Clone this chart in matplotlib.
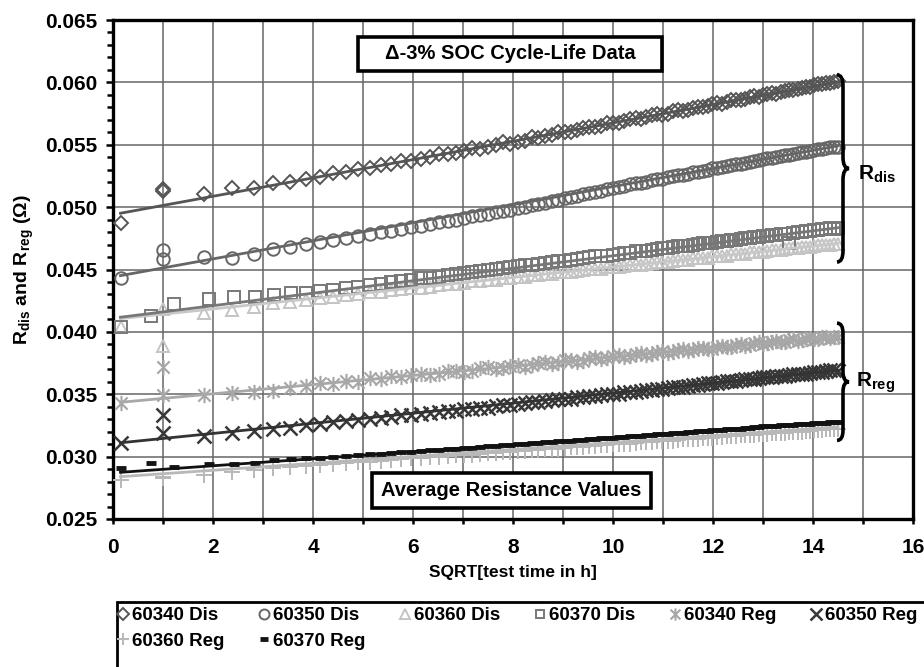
import numpy as np
import matplotlib
matplotlib.use('Agg')
import matplotlib.pyplot as plt
from matplotlib.path import Path
from matplotlib.patches import PathPatch, Rectangle
from matplotlib.ticker import MultipleLocator, FormatStrFormatter

plt.rcParams['font.family'] = ['Liberation Sans', 'DejaVu Sans']
plt.rcParams['font.weight'] = 'bold'
plt.rcParams['mathtext.fontset'] = 'custom'
plt.rcParams['mathtext.rm'] = 'Liberation Sans:bold'
plt.rcParams['mathtext.default'] = 'rm'

# SQRT[test time in h] for the measurement points
x_early = [0.15, 1.00, 1.00, 1.82, 2.37, 2.81, 3.19, 3.54]
x_early_370 = [0.15, 0.75, 1.22, 1.92, 2.42, 2.84, 3.22, 3.56]
x_late = [3.85, 4.14, 4.40, 4.66, 4.90, 5.13, 5.35, 5.56, 5.76, 5.96,
          6.33, 6.69, 7.02, 7.34, 7.65, 7.94, 8.23, 8.50, 8.77, 9.03,
          9.28, 9.52, 9.76, 9.99, 10.22, 10.45, 10.66, 10.88, 11.09, 11.29,
          11.49, 11.69, 11.89, 12.08, 12.27, 12.45, 12.64, 12.82, 13.00, 13.17,
          13.35, 13.52, 13.69, 13.85, 14.02, 14.18, 14.34, 14.50]
# in-between checkups (second half of the test)
x_mid = [6.15, 6.51, 6.86, 7.18, 7.50, 7.80, 8.09, 8.37, 8.64, 8.90,
         9.15, 9.40, 9.64, 9.88, 10.11, 10.33, 10.55, 10.77, 10.98, 11.19,
         11.39, 11.59, 11.79, 11.98, 12.17, 12.36, 12.55, 12.73, 12.91, 13.08,
         13.26, 13.43, 13.60, 13.77, 13.94, 14.10, 14.26, 14.42]

# resistance values (ohm)
dis_60340 = [0.04873, 0.05145, 0.05132, 0.05105, 0.05153, 0.05150, 0.05190, 0.05200,
             0.05225, 0.05238, 0.05270, 0.05278, 0.05305, 0.05312, 0.05340, 0.05345, 0.05370, 0.05372,
             0.05398, 0.05425, 0.05450, 0.05468, 0.05495, 0.05510, 0.05530, 0.05555, 0.05575, 0.05600,
             0.05615, 0.05640, 0.05650, 0.05676, 0.05688, 0.05712, 0.05720, 0.05745, 0.05750, 0.05778,
             0.05782, 0.05806, 0.05812, 0.05835, 0.05840, 0.05862, 0.05868, 0.05890, 0.05895, 0.05915,
             0.05920, 0.05942, 0.05948, 0.05965, 0.05975, 0.05990, 0.05998, 0.06008]
dis_60350 = [0.04432, 0.04656, 0.04584, 0.04600, 0.04592, 0.04624, 0.04664, 0.04680,
             0.04705, 0.04722, 0.04740, 0.04755, 0.04770, 0.04782, 0.04800, 0.04812, 0.04825, 0.04840,
             0.04862, 0.04888, 0.04912, 0.04935, 0.04958, 0.04980, 0.05002, 0.05025, 0.05048, 0.05070,
             0.05090, 0.05112, 0.05132, 0.05152, 0.05170, 0.05190, 0.05205, 0.05222, 0.05238, 0.05255,
             0.05268, 0.05285, 0.05300, 0.05315, 0.05328, 0.05342, 0.05356, 0.05370, 0.05382, 0.05396,
             0.05408, 0.05420, 0.05434, 0.05445, 0.05458, 0.05468, 0.05478, 0.05482]
dis_60360 = [0.04039, 0.03890, 0.04180, 0.04151, 0.04175, 0.04200, 0.04230, 0.04240,
             0.04258, 0.04275, 0.04282, 0.04298, 0.04303, 0.04318, 0.04322, 0.04336, 0.04340, 0.04352,
             0.04362, 0.04383, 0.04392, 0.04410, 0.04418, 0.04435, 0.04442, 0.04459, 0.04465, 0.04481,
             0.04487, 0.04502, 0.04507, 0.04522, 0.04526, 0.04541, 0.04545, 0.04559, 0.04562, 0.04576,
             0.04580, 0.04593, 0.04596, 0.04609, 0.04612, 0.04625, 0.04628, 0.04640, 0.04643, 0.04655,
             0.04658, 0.04670, 0.04672, 0.04684, 0.04686, 0.04698, 0.04699, 0.04705]
dis_60370 = [0.04040, 0.04128, 0.04220, 0.04264, 0.04280, 0.04280, 0.04296, 0.04310,
             0.04310, 0.04325, 0.04335, 0.04352, 0.04362, 0.04375, 0.04385, 0.04398, 0.04405, 0.04418,
             0.04435, 0.04452, 0.04472, 0.04488, 0.04505, 0.04520, 0.04535, 0.04548, 0.04560, 0.04572,
             0.04585, 0.04598, 0.04608, 0.04620, 0.04630, 0.04645, 0.04652, 0.04665, 0.04675, 0.04685,
             0.04692, 0.04705, 0.04712, 0.04722, 0.04730, 0.04740, 0.04750, 0.04758, 0.04765, 0.04775,
             0.04782, 0.04712, 0.04798, 0.04805, 0.04815, 0.04822, 0.04830, 0.04832]
reg_60340 = [0.03430, 0.03718, 0.03494, 0.03490, 0.03510, 0.03518, 0.03530, 0.03550,
             0.03568, 0.03590, 0.03585, 0.03610, 0.03602, 0.03628, 0.03620, 0.03645, 0.03635, 0.03658,
             0.03655, 0.03688, 0.03680, 0.03708, 0.03700, 0.03730, 0.03722, 0.03752, 0.03745, 0.03772,
             0.03762, 0.03790, 0.03780, 0.03808, 0.03798, 0.03822, 0.03815, 0.03840, 0.03830, 0.03855,
             0.03845, 0.03868, 0.03860, 0.03882, 0.03875, 0.03895, 0.03890, 0.03910, 0.03902, 0.03922,
             0.03915, 0.03935, 0.03928, 0.03945, 0.03940, 0.03958, 0.03952, 0.03962]
reg_60350 = [0.03109, 0.03334, 0.03190, 0.03165, 0.03190, 0.03205, 0.03220, 0.03230,
             0.03250, 0.03262, 0.03275, 0.03282, 0.03295, 0.03300, 0.03312, 0.03318, 0.03330, 0.03335,
             0.03350, 0.03362, 0.03378, 0.03388, 0.03402, 0.03412, 0.03428, 0.03438, 0.03452, 0.03460,
             0.03475, 0.03482, 0.03495, 0.03502, 0.03515, 0.03522, 0.03535, 0.03540, 0.03552, 0.03558,
             0.03570, 0.03575, 0.03588, 0.03592, 0.03605, 0.03608, 0.03620, 0.03622, 0.03635, 0.03638,
             0.03650, 0.03652, 0.03665, 0.03665, 0.03680, 0.03682, 0.03692, 0.03688]
reg_60360 = [0.02813, 0.02837, 0.02830, 0.02853, 0.02880, 0.02895, 0.02905, 0.02915,
             0.02925, 0.02932, 0.02940, 0.02948, 0.02955, 0.02960, 0.02968, 0.02972, 0.02978, 0.02985,
             0.02995, 0.03005, 0.03015, 0.03022, 0.03032, 0.03040, 0.03048, 0.03055, 0.03062, 0.03070,
             0.03078, 0.03085, 0.03090, 0.03098, 0.03104, 0.03110, 0.03116, 0.03122, 0.03128, 0.03134,
             0.03140, 0.03145, 0.03150, 0.03156, 0.03162, 0.03166, 0.03172, 0.03176, 0.03182, 0.03186,
             0.03192, 0.03196, 0.03200, 0.03205, 0.03210, 0.03215, 0.03220, 0.03225]
reg_60370 = [0.02910, 0.02948, 0.02920, 0.02940, 0.02942, 0.02950, 0.02970, 0.02980,
             0.02985, 0.02992, 0.02998, 0.03006, 0.03012, 0.03018, 0.03024, 0.03030, 0.03035, 0.03041,
             0.03050, 0.03060, 0.03068, 0.03078, 0.03088, 0.03096, 0.03104, 0.03110, 0.03118, 0.03125,
             0.03132, 0.03140, 0.03146, 0.03152, 0.03160, 0.03165, 0.03172, 0.03178, 0.03185, 0.03190,
             0.03195, 0.03202, 0.03206, 0.03212, 0.03218, 0.03222, 0.03228, 0.03236, 0.03242, 0.03245,
             0.03250, 0.03252, 0.03258, 0.03262, 0.03266, 0.03270, 0.03275, 0.03280]

# values at x_mid
dis_60340_mid = [0.05385, 0.05422, 0.05436, 0.05475, 0.05480, 0.05520, 0.05525, 0.05560, 0.05568, 0.05602,
                 0.05605, 0.05638, 0.05642, 0.05672, 0.05678, 0.05705, 0.05710, 0.05738, 0.05742, 0.05770,
                 0.05772, 0.05798, 0.05800, 0.05828, 0.05830, 0.05855, 0.05858, 0.05882, 0.05884, 0.05908,
                 0.05910, 0.05932, 0.05936, 0.05958, 0.05962, 0.05985, 0.05992, 0.06005]
dis_60350_mid = [0.04852, 0.04878, 0.04898, 0.04925, 0.04945, 0.04970, 0.04990, 0.05015, 0.05035, 0.05060,
                 0.05078, 0.05102, 0.05120, 0.05144, 0.05160, 0.05182, 0.05196, 0.05215, 0.05228, 0.05248,
                 0.05260, 0.05278, 0.05292, 0.05310, 0.05320, 0.05336, 0.05348, 0.05364, 0.05375, 0.05390,
                 0.05402, 0.05415, 0.05426, 0.05440, 0.05450, 0.05464, 0.05472, 0.05485]
dis_60360_mid = [0.04355, 0.04378, 0.04385, 0.04405, 0.04412, 0.04431, 0.04437, 0.04455, 0.04460, 0.04477,
                 0.04482, 0.04498, 0.04502, 0.04517, 0.04522, 0.04537, 0.04540, 0.04555, 0.04558, 0.04572,
                 0.04576, 0.04589, 0.04593, 0.04606, 0.04609, 0.04621, 0.04625, 0.04637, 0.04640, 0.04652,
                 0.04655, 0.04667, 0.04669, 0.04681, 0.04684, 0.04694, 0.04697, 0.04706]
dis_60370_mid = [0.04428, 0.04442, 0.04465, 0.04478, 0.04498, 0.04510, 0.04530, 0.04540, 0.04556, 0.04565,
                 0.04580, 0.04590, 0.04605, 0.04612, 0.04626, 0.04636, 0.04650, 0.04658, 0.04672, 0.04678,
                 0.04690, 0.04698, 0.04710, 0.04716, 0.04728, 0.04734, 0.04746, 0.04752, 0.04764, 0.04768,
                 0.04780, 0.04786, 0.04795, 0.04800, 0.04812, 0.04815, 0.04828, 0.04828]
reg_60340_mid = [0.03662, 0.03665, 0.03690, 0.03688, 0.03715, 0.03710, 0.03738, 0.03732, 0.03758, 0.03750,
                 0.03778, 0.03770, 0.03795, 0.03788, 0.03812, 0.03806, 0.03828, 0.03822, 0.03845, 0.03838,
                 0.03860, 0.03852, 0.03874, 0.03866, 0.03888, 0.03880, 0.03902, 0.03895, 0.03915, 0.03908,
                 0.03928, 0.03920, 0.03940, 0.03932, 0.03952, 0.03946, 0.03962, 0.03958]
reg_60350_mid = [0.03345, 0.03358, 0.03368, 0.03385, 0.03393, 0.03410, 0.03418, 0.03435, 0.03442, 0.03458,
                 0.03465, 0.03480, 0.03486, 0.03500, 0.03506, 0.03520, 0.03526, 0.03538, 0.03544, 0.03556,
                 0.03562, 0.03574, 0.03580, 0.03590, 0.03596, 0.03606, 0.03614, 0.03622, 0.03630, 0.03636,
                 0.03645, 0.03650, 0.03660, 0.03664, 0.03674, 0.03680, 0.03690, 0.03692]
reg_60360_mid = [0.02992, 0.02998, 0.03012, 0.03017, 0.03029, 0.03034, 0.03046, 0.03050, 0.03060, 0.03064,
                 0.03076, 0.03080, 0.03089, 0.03092, 0.03103, 0.03105, 0.03115, 0.03117, 0.03127, 0.03129,
                 0.03139, 0.03140, 0.03150, 0.03151, 0.03161, 0.03162, 0.03171, 0.03172, 0.03181, 0.03182,
                 0.03191, 0.03192, 0.03200, 0.03201, 0.03209, 0.03210, 0.03219, 0.03220]
reg_60370_mid = [0.03046, 0.03056, 0.03064, 0.03072, 0.03084, 0.03092, 0.03100, 0.03108, 0.03114, 0.03122,
                 0.03128, 0.03136, 0.03143, 0.03150, 0.03156, 0.03162, 0.03168, 0.03175, 0.03182, 0.03188,
                 0.03192, 0.03198, 0.03204, 0.03210, 0.03215, 0.03220, 0.03225, 0.03232, 0.03240, 0.03244,
                 0.03248, 0.03251, 0.03255, 0.03260, 0.03264, 0.03268, 0.03272, 0.03278]

# linear trend lines  R = a + b * sqrt(t)
fit_a = [0.0494, 0.0444, 0.0410, 0.0411, 0.0343, 0.03105, 0.02835, 0.0287]
fit_b = [0.000735, 0.000725, 0.000420, 0.000500, 0.000368, 0.000405, 0.000278, 0.000283]

labels = ['60340 Dis', '60350 Dis', '60360 Dis', '60370 Dis',
          '60340 Reg', '60350 Reg', '60360 Reg', '60370 Reg']

star = Path([(0, -1), (0, 1), (-0.8, -0.8), (0.8, 0.8), (-0.8, 0.8), (0.8, -0.8)],
            [Path.MOVETO, Path.LINETO, Path.MOVETO, Path.LINETO, Path.MOVETO, Path.LINETO])

x_all = np.array(x_early + x_late + x_mid)
x_370 = np.array(x_early_370 + x_late + x_mid)
series = [
    (x_all, dis_60340 + dis_60340_mid, 'D', 7.5, 1.4, '#555555', '#555555'),
    (x_all, dis_60350 + dis_60350_mid, 'o', 9, 1.4, '#666666', '#666666'),
    (x_all, dis_60360 + dis_60360_mid, '^', 9, 1.4, '#c4c4c4', '#c8c8c8'),
    (x_370, dis_60370 + dis_60370_mid, 's', 8, 1.4, '#787878', '#777777'),
    (x_all, reg_60340 + reg_60340_mid, star, 11, 1.5, '#a6a6a6', '#a8a8a8'),
    (x_all, reg_60350 + reg_60350_mid, 'x', 10, 1.8, '#383838', '#333333'),
    (x_all, reg_60360 + reg_60360_mid, '+', 11, 1.4, '#b8b8b8', '#b8b8b8'),
    (x_370, reg_60370 + reg_60370_mid, '_', 7, 3.5, '#151515', '#111111'),
]

fig = plt.figure(figsize=(9.24, 6.67), dpi=100)
ax = fig.add_axes([113 / 924, 1 - 519 / 667, 800 / 924, 499 / 667])

handles = []
for i, (xs, ys, mk, ms, mew, col, lcol) in enumerate(series):
    h, = ax.plot(xs, ys, linestyle='none', marker=mk, ms=ms, mew=mew,
                 mec=col, mfc='none', label=labels[i], zorder=3)
    handles.append(h)
for i, (xs, ys, mk, ms, mew, col, lcol) in enumerate(series):
    xl = np.array([xs.min(), xs.max()])
    ax.plot(xl, fit_a[i] + fit_b[i] * xl, color=lcol, lw=2.0, zorder=4)

ax.set_xlim(0, 16)
ax.set_ylim(0.025, 0.065)
ax.xaxis.set_major_locator(MultipleLocator(2))
ax.xaxis.set_minor_locator(MultipleLocator(1))
ax.yaxis.set_major_locator(MultipleLocator(0.005))
ax.yaxis.set_minor_locator(MultipleLocator(0.001))
ax.yaxis.set_major_formatter(FormatStrFormatter('%.3f'))
ax.grid(True, which='major', color='#666666', lw=1.1)
ax.grid(True, which='minor', axis='x', color='#666666', lw=1.1)
ax.set_axisbelow(True)
for sp in ax.spines.values():
    sp.set_linewidth(2.4)
ax.tick_params(axis='both', which='both', direction='out', width=1.8, labelsize=15)
ax.tick_params(axis='y', which='major', length=5, pad=6)
ax.tick_params(axis='y', which='minor', length=4.5)
ax.tick_params(axis='x', which='both', length=3.6, pad=10)
for t in ax.get_xticklabels() + ax.get_yticklabels():
    t.set_fontweight('bold')

ax.set_xlabel('SQRT[test time in h]', fontsize=12.5, fontweight='bold', labelpad=6)
ax.set_ylabel(r'R$_{\mathrm{dis}}$ and R$_{\mathrm{reg}}$ ($\Omega$)', fontsize=14,
              fontweight='bold', labelpad=7)

# boxed notes
ax.add_patch(Rectangle((4.9, 0.06091), 6.08, 0.00273, fc='white', ec='black', lw=2.6, zorder=6))
ax.text(7.94, 0.06228, '\u0394-3% SOC Cycle-Life Data', ha='center', va='center',
        fontsize=14.5, fontweight='bold', zorder=7)
ax.add_patch(Rectangle((5.18, 0.02588), 5.58, 0.00281, fc='white', ec='black', lw=2.6, zorder=6))
ax.text(7.97, 0.02728, 'Average Resistance Values', ha='center', va='center',
        fontsize=14.5, fontweight='bold', zorder=7)


def brace(x0, ytop, ybot, w, d):
    ym = (ytop + ybot) / 2
    xm = x0 + w / 2
    verts = [(x0, ytop), (xm, ytop), (xm, ytop - d),
             (xm, ym + d),
             (xm, ym), (x0 + w, ym),
             (xm, ym), (xm, ym - d),
             (xm, ybot + d),
             (xm, ybot), (x0, ybot)]
    codes = [Path.MOVETO, Path.CURVE3, Path.CURVE3,
             Path.LINETO,
             Path.CURVE3, Path.CURVE3,
             Path.CURVE3, Path.CURVE3,
             Path.LINETO,
             Path.CURVE3, Path.CURVE3]
    ax.add_patch(PathPatch(Path(verts, codes), fc='none', ec='black', lw=2.6,
                           clip_on=False, zorder=6))


brace(14.48, 0.0606, 0.0456, 0.24, 0.0009)
brace(14.48, 0.0407, 0.0313, 0.24, 0.0008)
ax.text(14.9, 0.0526, r'R$_{\mathrm{dis}}$', fontsize=15, fontweight='bold', va='center', ha='left')
ax.text(14.85, 0.0359, r'R$_{\mathrm{reg}}$', fontsize=15, fontweight='bold', va='center', ha='left')

# legend with a frame running off the bottom right corner
fig.add_artist(Rectangle((117 / 924, -0.1), 1.0, 1 - 602 / 667 + 0.1, transform=fig.transFigure,
                         fc='white', ec='black', lw=2.0, clip_on=False))
order = [0, 6, 1, 7, 2, 3, 4, 5]
leg = fig.legend([handles[k] for k in order], [labels[k] for k in order], ncol=6,
                 loc='upper left', bbox_to_anchor=(116 / 924, 1 - 607 / 667), frameon=False,
                 fontsize=13.5, handlelength=0.7, handletextpad=0.15, columnspacing=1.75,
                 labelspacing=0.45, borderpad=0.0, borderaxespad=0.0, markerscale=0.8)
for t in leg.get_texts():
    t.set_fontweight('bold')

fig.savefig('out.png', dpi=100)
